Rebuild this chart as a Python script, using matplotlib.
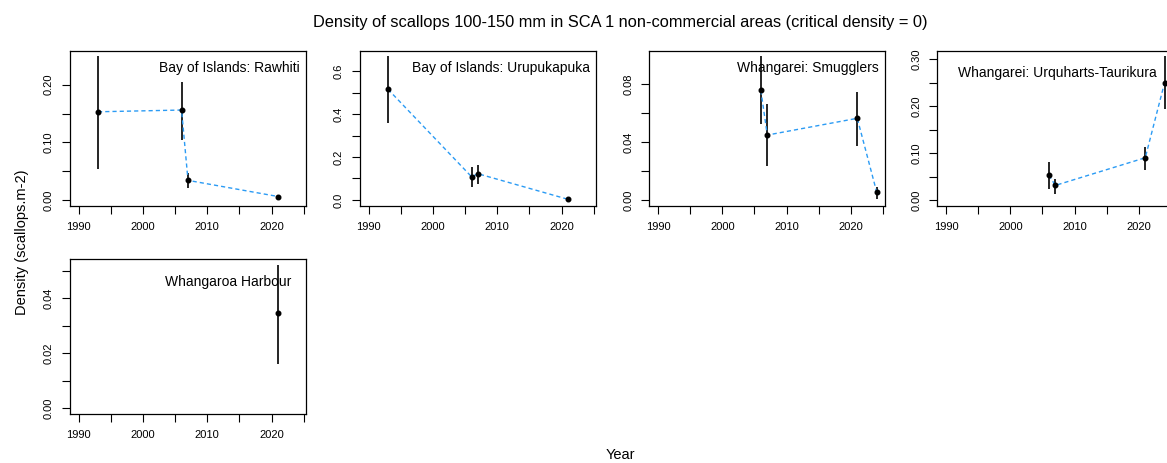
import numpy as np
import matplotlib
matplotlib.use('Agg')
import matplotlib.pyplot as plt

plt.rcParams['font.family'] = ['Liberation Sans', 'DejaVu Sans']

# survey estimates per area: year, density, lower and upper interval
rawhiti_year = [1993, 2006, 2007, 2021]
rawhiti_dens = [0.153, 0.156, 0.034, 0.006]
rawhiti_lo = [0.054, 0.104, 0.020, 0.004]
rawhiti_hi = [0.249, 0.205, 0.046, 0.008]

urupukapuka_year = [1993, 2006, 2007, 2021]
urupukapuka_dens = [0.515, 0.108, 0.122, 0.003]
urupukapuka_lo = [0.358, 0.062, 0.073, 0.001]
urupukapuka_hi = [0.668, 0.155, 0.161, 0.005]

smugglers_year = [2006, 2007, 2021, 2024]
smugglers_dens = [0.0758, 0.0449, 0.0565, 0.0058]
smugglers_lo = [0.0523, 0.0233, 0.0371, 0.0005]
smugglers_hi = [0.0993, 0.0662, 0.0747, 0.0090]

urquharts_year = [2006, 2007, 2021, 2024]
urquharts_dens = [0.053, 0.031, 0.090, 0.250]
urquharts_lo = [0.024, 0.012, 0.064, 0.193]
urquharts_hi = [0.082, 0.044, 0.112, 0.306]

whangaroa_year = [2021]
whangaroa_dens = [0.0344]
whangaroa_lo = [0.0159]
whangaroa_hi = [0.0521]

area_names = ['Bay of Islands: Rawhiti', 'Bay of Islands: Urupukapuka',
              'Whangarei: Smugglers', 'Whangarei: Urquharts-Taurikura',
              'Whangaroa Harbour']

# y tick spacing and which ticks get a label (every other one)
ytick_step = [0.05, 0.1, 0.02, 0.05, 0.01]
ytick_fmt = ['%.2f', '%.1f', '%.2f', '%.2f', '%.2f']

series = [
    (rawhiti_year, rawhiti_dens, rawhiti_lo, rawhiti_hi),
    (urupukapuka_year, urupukapuka_dens, urupukapuka_lo, urupukapuka_hi),
    (smugglers_year, smugglers_dens, smugglers_lo, smugglers_hi),
    (urquharts_year, urquharts_dens, urquharts_lo, urquharts_hi),
    (whangaroa_year, whangaroa_dens, whangaroa_lo, whangaroa_hi),
]

W, H = 1167, 463
fig = plt.figure(figsize=(W / 100, H / 100), dpi=100)

# panel boxes in pixels: left, top
col_left = [70, 360, 649.3, 937.3]
row_top = [50.7, 259]
pw, ph = 236, 155
# label offsets from the top-right corner (pixels)
label_off = [(6, 17), (6, 17), (7, 17), (17, 22), (15, 23)]

for i, (yr, d, lo, hi) in enumerate(series):
    r, c = divmod(i, 4)
    left, top = col_left[c], row_top[r]
    ax = fig.add_axes([left / W, 1 - (top + ph) / H, pw / W, ph / H])

    ax.vlines(yr, lo, hi, color='black', lw=1.2)
    if len(yr) > 1:
        ax.plot(yr, d, color='#2b9bf4', lw=1.0, ls=(0, (3, 2.2)))
    ax.plot(yr, d, 'o', color='black', ms=3.3)

    ax.set_xlim(1990 - 0.04 * 34, 2024 + 0.04 * 34)
    ymax = max(hi)
    ax.set_ylim(-0.04 * ymax, 1.04 * ymax)

    xt = np.arange(1990, 2026, 5)
    ax.set_xticks(xt)
    ax.set_xticklabels([str(t) if t % 10 == 0 else '' for t in xt])
    step = ytick_step[i]
    yt = np.arange(0, ymax + step * 0.01, step)
    ax.set_yticks(yt)
    ax.set_yticklabels([ytick_fmt[i] % v if k % 2 == 0 else ''
                        for k, v in enumerate(yt)],
                       rotation=90, va='center')
    ax.tick_params(length=5.5, width=0.8, labelsize=8, pad=6)
    for s in ax.spines.values():
        s.set_linewidth(0.9)

    dx, dy = label_off[i]
    ax.annotate(area_names[i], xy=(1, 1), xycoords='axes fraction',
                xytext=(-dx * 0.72, -dy * 0.72), textcoords='offset points',
                ha='right', va='center', fontsize=10)

fig.text(620 / W, 1 - 22 / H,
         'Density of scallops 100-150 mm in SCA 1 non-commercial areas (critical density = 0)',
         ha='center', va='center', fontsize=11.8)
fig.text(22 / W, 1 - 242 / H, 'Density (scallops.m-2)', rotation=90,
         ha='center', va='center', fontsize=10.5)
fig.text(620 / W, 1 - 455 / H, 'Year', ha='center', va='center', fontsize=10.5)

fig.savefig('out.png', dpi=100)
